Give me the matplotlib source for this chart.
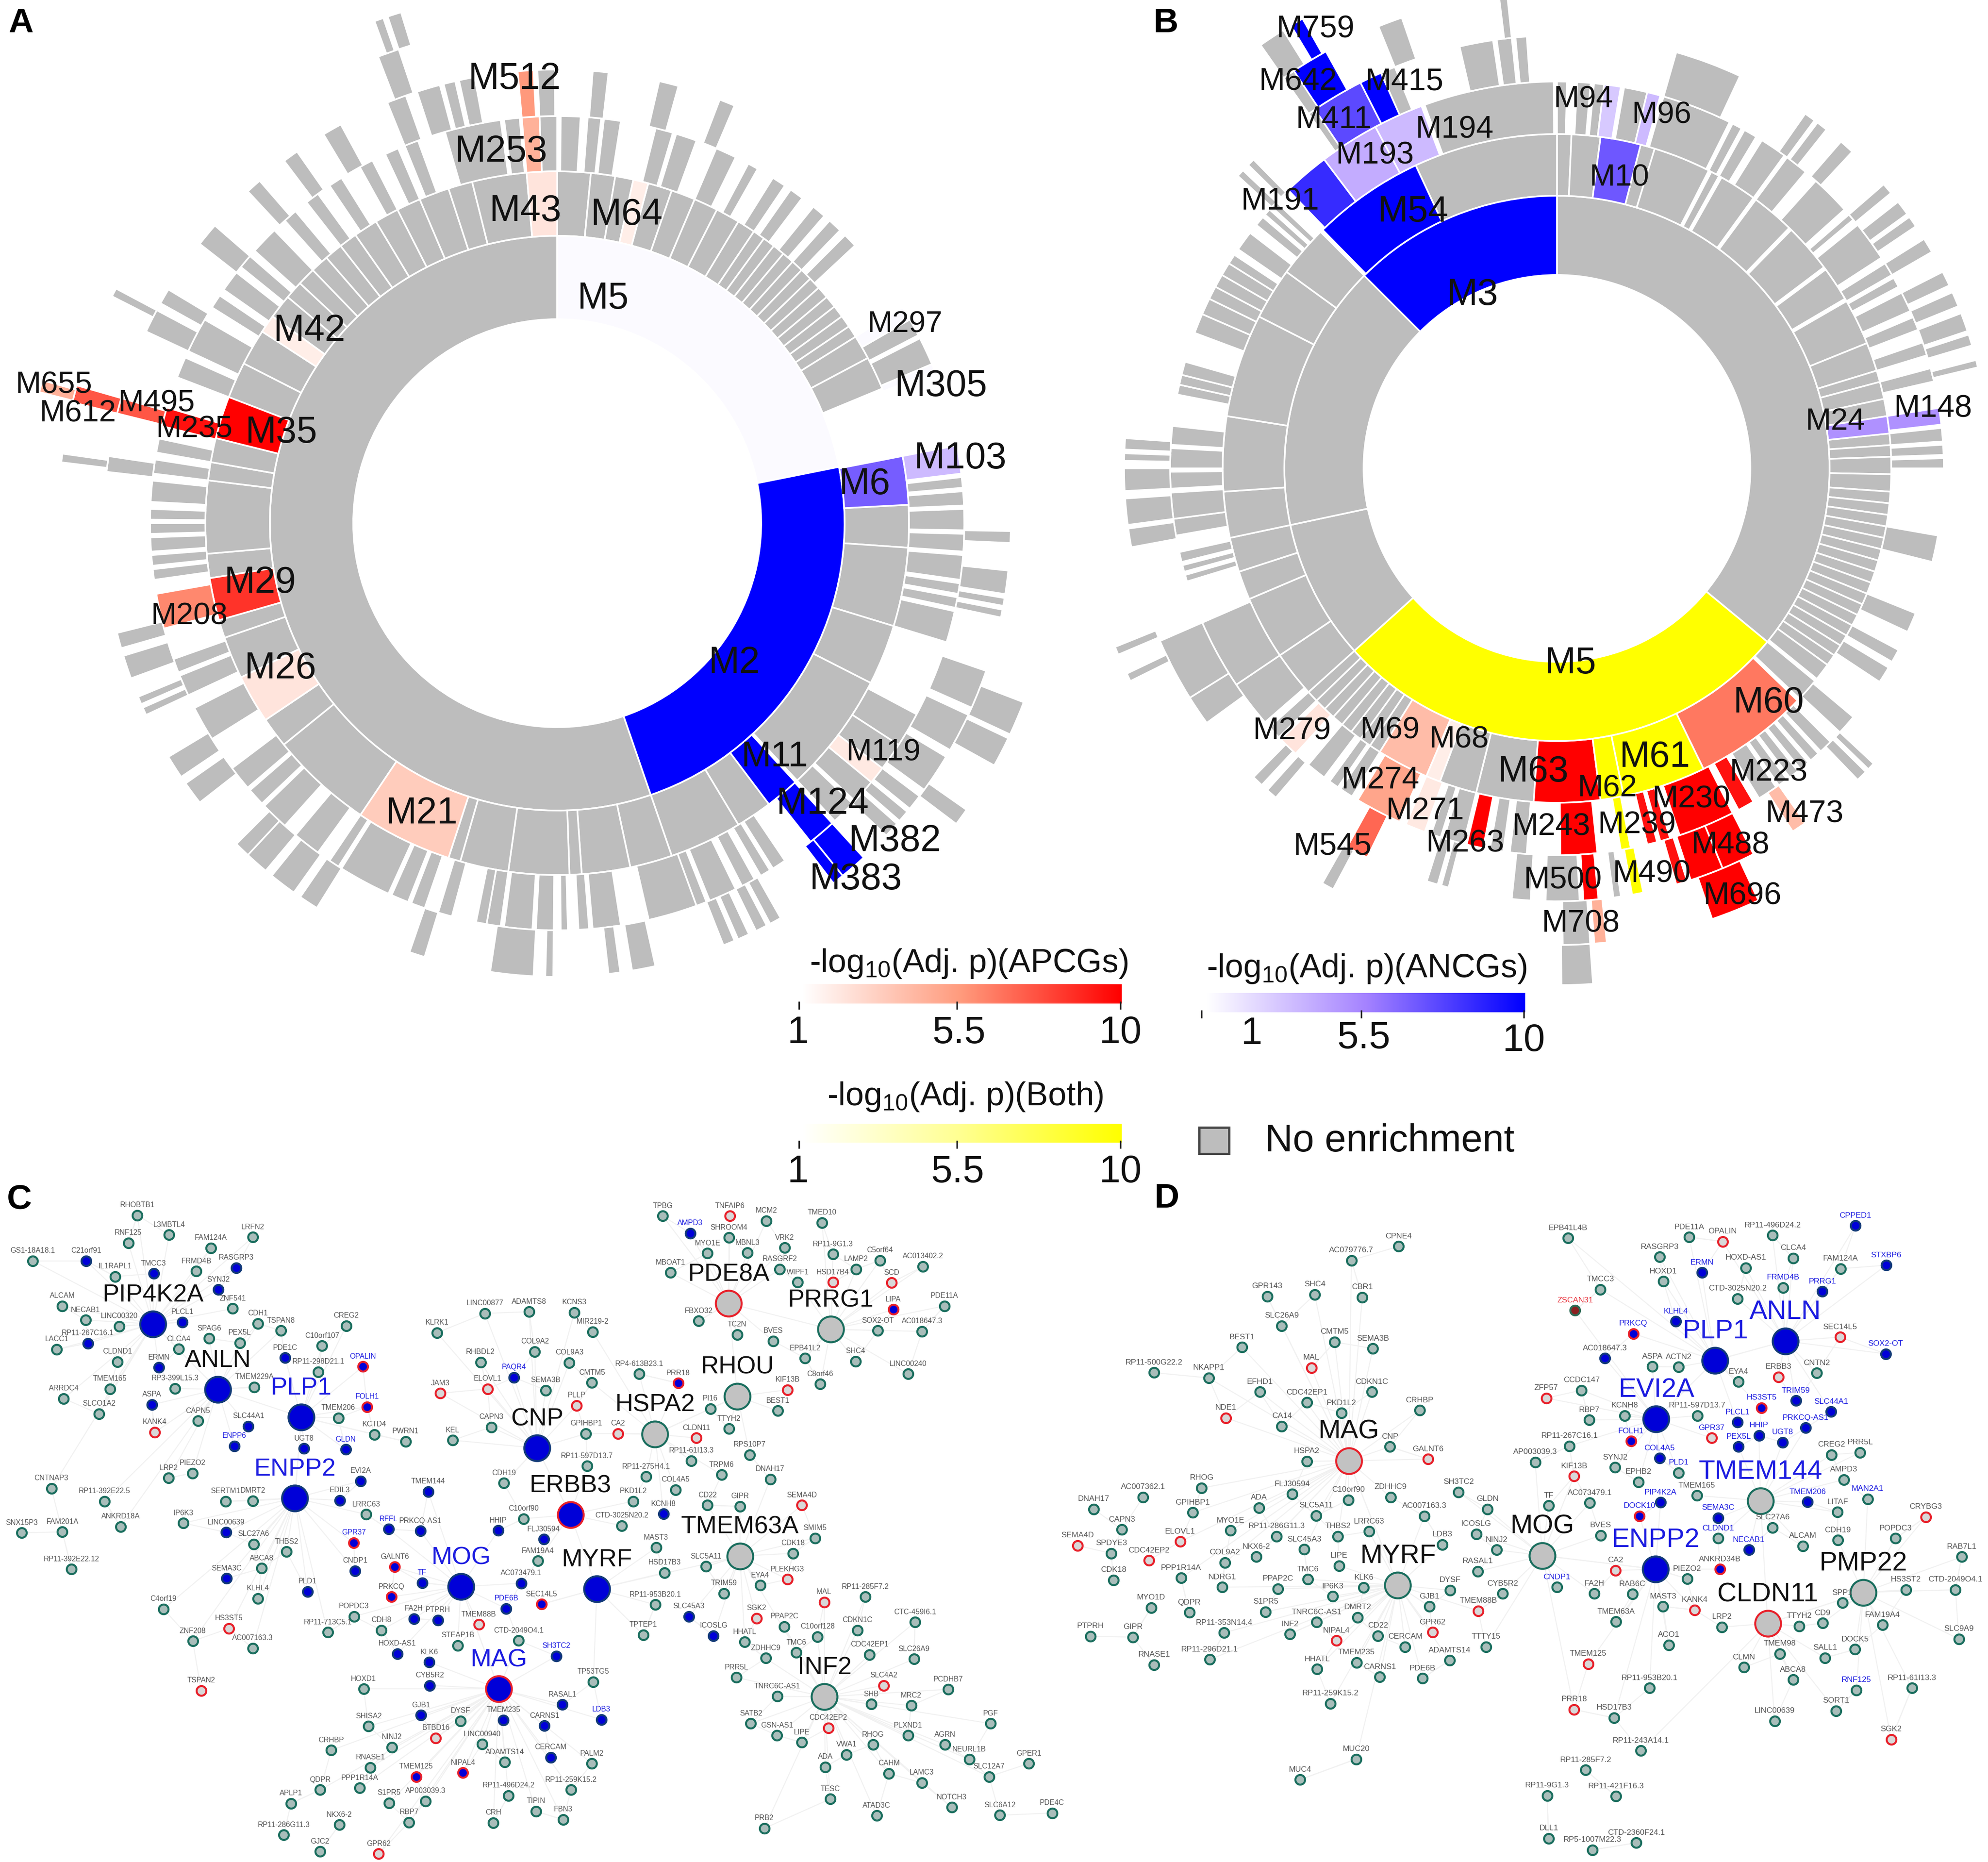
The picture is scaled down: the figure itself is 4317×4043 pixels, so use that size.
import matplotlib
matplotlib.use("Agg")
from matplotlib import pyplot as plt
from matplotlib.patches import Wedge, Rectangle
from matplotlib.collections import LineCollection
from matplotlib.colors import LinearSegmentedColormap, Normalize
import numpy as np

plt.rcParams['font.family'] = ['Liberation Sans', 'DejaVu Sans']
plt.rcParams['mathtext.default'] = 'regular'

W, H = 4317, 4043

# sunburst A, angles in clock degrees, each inner list is a run of touching cells
A_CENTER = (1210, 1136)
A_RADII = [443, 624, 764, 884, 985, 1085, 1160]
A_RING1 = [[161, 360]]
A_RING2 = [[0, 5.5, 9.5, 12.5], [15, 19, 23, 27, 31, 34, 36, 38, 40, 42, 44, 46, 48, 50, 52, 54, 56, 58, 62, 67.5],
           [87, 94, 107, 117, 137], [143, 149, 161, 168, 176, 178, 188, 196, 198], [214, 231, 236], [244, 251, 254],
           [261, 265, 277, 280, 284], [291, 297, 303],
           [306, 310, 313, 316, 319, 322, 325, 329, 333, 337, 342, 346, 355]]
A_RING3 = [[0.5, 3.3], [4.3, 6.2], [6.6, 9], [14, 16.5], [17, 20], [23, 26], [28, 29.5], [32, 34], [35, 37], [39, 41],
           [42, 44], [45, 47], [60, 62.5], [63, 67], [83.5, 85], [85.5, 87.5], [88, 91], [91.5, 94], [94.5, 98],
           [98.5, 100], [100.5, 102], [102.5, 107], [118, 123], [123, 127], [129.5, 133], [133.5, 137], [146, 148],
           [148.5, 150], [151, 153], [154, 158], [158.5, 160], [160, 167], [171, 175], [175.5, 177], [178.5, 179.5],
           [180.5, 183], [183.5, 187.5], [188, 190], [190, 191.5], [195, 197], [199, 201], [201.5, 204], [204.5, 212],
           [212.5, 214], [216, 220], [222, 226], [226.5, 229], [229.5, 233], [238, 243], [245, 248], [248.5, 250.5],
           [262, 263.5], [264, 265.5], [266, 268], [268.5, 270], [270.5, 272], [273, 276], [277, 279], [280, 282],
           [291, 294], [295, 300], [302, 304], [305, 308], [309, 311], [312, 316], [318, 320], [322, 324], [326, 328],
           [331, 333], [335, 337], [338, 340], [344, 352], [352.5, 354.7], [357.5, 360]]
A_RING4 = [[4.5, 6.5], [13, 15.5], [21, 23], [91, 92.5], [96, 99], [99.5, 100.5], [101, 102], [109, 114], [115, 120],
           [121, 126], [127, 129], [129.5, 131], [131.5, 133.5], [150.5, 152], [152.5, 154], [155, 156.5], [157, 158.5],
           [167.5, 170.5], [172, 173.5], [180.5, 181.5], [183, 188.5], [197, 199], [212, 214.5], [215.5, 219], [220, 223],
           [223, 225], [232, 235], [236, 239], [245, 246], [246.5, 247.5], [250, 253], [254, 256], [276.5, 278.5], [295, 298],
           [299, 301], [308, 311], [317, 319], [323, 325], [329, 331.5], [338, 340.5], [342, 345], [345.5, 347],
           [347.5, 349.5], [357.5, 359.7]]
A_RING5 = [[111, 115], [115.5, 119], [125, 127], [277, 278], [297, 298], [339, 341.5]]
A_RING6 = [[340, 341], [341.5, 343]]
A_RED = [(2, 355, 360, 2.2), (2, 12.5, 15, 1.8), (2, 303, 306, 1.8), (2, 284, 291, 10), (2, 254, 261, 8.5),
         (2, 236, 244, 2.2), (2, 198, 214, 3.3), (3, 355, 357.5, 4.5), (4, 355, 357, 5.5), (3, 255, 260, 6),
         (3, 283.8, 286.5, 9.5), (4, 284, 286, 7.5), (5, 284, 286, 7.5), (6, 284.2, 285.5, 4.5), (3, 127, 129.5, 2)]
A_BLUE = [(1, 0, 78.7, 1.2), (1, 78.7, 161, 10), (2, 79, 87, 6.8), (3, 79, 83, 3.5), (2, 137.4, 143, 10),
          (3, 137.5, 141.5, 10), (4, 137.5, 141, 10), (4, 141, 142.5, 10), (3, 58, 60, 1.2), (3, 67, 68, 1.2)]
A_LABELS = [('M512', 1117, 172, 58), ('M253', 1088, 330, 58), ('M43', 1141, 459, 58), ('M64', 1361, 467, 58),
            ('M5', 1309, 649, 58), ('M42', 672, 719, 58), ('M297', 1965, 705, 47), ('M305', 2043, 839, 58),
            ('M103', 2085, 996, 58), ('M6', 1877, 1052, 58), ('M655', 117, 837, 48), ('M612', 169, 898, 48),
            ('M495', 340, 877, 48), ('M235', 422, 933, 48), ('M35', 611, 940, 58), ('M29', 565, 1266, 58),
            ('M208', 411, 1339, 48), ('M26', 609, 1452, 58), ('M2', 1594, 1440, 58), ('M11', 1682, 1644, 56),
            ('M119', 1918, 1634, 48), ('M124', 1786, 1746, 58), ('M382', 1943, 1827, 58), ('M383', 1858, 1910, 58),
            ('M21', 916, 1767, 58)]

# sunburst B
B_CENTER = (3381, 1017)
B_RADII = [420, 592, 726, 840, 940, 1035, 1122]
B_RING1 = [[0, 129.5], [228, 258, 315]]
B_RING2 = [[0, 2.5, 7.5], [14.5, 17, 27], [27.5, 29], [29.5, 36], [36.5, 44], [44.5, 53], [53.5, 59.5], [60, 68, 73, 75, 78, 81],
           [84, 86, 88, 91, 94, 96, 98, 100, 102, 104, 106, 108, 110, 112, 114, 116, 118, 120, 122, 124, 126, 129],
           [129.5, 133.5], [184, 194, 200.5], [212, 214, 216, 218, 220, 222, 224, 226, 228],
           [228, 236, 247, 252, 258, 266, 279, 297, 306, 315], [335, 360]]
B_RING3 = [[340, 359.5], [0, 1.5], [3, 5], [5.5, 7], [10, 13.5], [16, 26.5], [27, 28.5], [29, 31], [32, 36], [36.5, 40], [42, 48],
           [49, 50], [51, 57], [58, 60], [60.5, 62], [63, 66], [67, 69], [71, 73], [75, 77], [84, 86], [86.5, 88], [88.5, 90],
           [100, 104], [112, 115], [118, 120], [121, 123.5], [130, 133], [135, 137], [137.5, 139], [139.5, 141], [141.5, 143],
           [143.5, 145], [145.5, 148.5], [184.5, 187], [188, 190], [194, 197], [197.5, 199], [212, 214], [214.5, 216], [217, 220],
           [226, 228], [229, 236], [236, 246.5], [253, 254], [254.5, 255.5], [256, 257.5], [260, 262.5],
           [262.5, 266.4], [267, 269.5], [270, 273], [273.5, 276.3], [281, 282.5], [282.5, 284], [284, 286],
           [290.5, 293.5], [293.5, 296], [296, 298], [298, 300], [300, 302], [302, 303.5], [304.5, 307.5],
           [309, 310.5], [311, 312], [312.5, 313.5]]
B_RING4 = [[312.5, 313.5], [314.5, 315.5], [325, 326], [336, 338], [347, 351.5], [352, 354], [354.5, 356], [16, 25], [35, 36.5],
           [37, 38.5], [41, 43], [49, 50.5], [52, 54], [54.5, 56], [58, 60], [63, 65], [66, 68], [69, 71.5], [72, 73.5], [75.5, 76.5],
           [238, 246.5], [234, 238], [259.5, 262], [262.5, 266], [267, 270], [271, 272], [272.5, 274], [220.5, 222], [223, 224.5],
           [133, 134], [134.5, 136], [177, 181.5], [183.5, 186], [171.5, 172.5], [194.5, 195.5], [196, 197.5]]
B_RING5 = [[338, 341], [325, 328], [353, 354], [243.5, 244.5], [247, 248], [176, 179.3], [208, 209.5]]
B_RING6 = [[325, 328], [176, 179.5]]
B_RED = [(2, 134, 154, 6.5), (2, 172.5, 184, 10), (2, 203, 212, 4), (2, 200.5, 203, 1.8), (3, 204, 211, 5), (3, 222.5, 225.5, 2.2),
         (3, 174, 179.5, 10), (3, 153, 161.5, 10), (3, 149.5, 152, 9.5), (3, 165, 166.5, 9.5), (3, 163, 164.5, 9.5),
         (3, 191, 193.5, 10), (3, 200, 203, 2), (4, 206, 209, 7), (4, 174.5, 176.5, 10), (5, 174, 175.5, 4.5), (4, 153, 157.5, 10),
         (4, 157.5, 162, 10), (5, 155, 161, 10), (4, 162.5, 164, 9.5), (4, 145, 147, 4)]
B_BLUE = [(1, 315, 360, 10), (2, 315.5, 335, 10), (2, 7.5, 14.5, 7), (2, 81, 84, 5), (3, 81, 83.5, 5), (3, 316, 323, 8.5),
          (3, 323, 332, 4), (3, 332, 339.5, 3.5), (3, 7, 9.5, 3), (3, 13.5, 15.5, 3.5), (4, 326, 333, 7.5), (4, 333, 336, 10),
          (5, 326.5, 331, 10), (6, 329, 330.5, 10)]
B_YELLOW = [(1, 129.5, 228, 10), (2, 154, 168.5, 10), (2, 168.5, 172.5, 10), (3, 169, 170.5, 10), (4, 168.5, 170, 10)]
B_LABELS = [('M759', 2856, 63, 49), ('M642', 2818, 178, 49), ('M415', 3049, 178, 49), ('M411', 2896, 260, 49),
            ('M194', 3158, 281, 49), ('M193', 2986, 337, 49), ('M94', 3438, 217, 48), ('M96', 3608, 250, 48),
            ('M10', 3516, 386, 48), ('M191', 2779, 438, 49), ('M54', 3069, 460, 57), ('M3', 3197, 641, 58),
            ('M24', 3985, 916, 48), ('M148', 4197, 888, 49), ('M5', 3410, 1441, 58), ('M60', 3840, 1527, 57),
            ('M279', 2805, 1588, 49), ('M69', 3018, 1586, 48), ('M68', 3168, 1607, 48), ('M63', 3329, 1677, 57),
            ('M61', 3593, 1644, 57), ('M223', 3840, 1677, 49), ('M62', 3490, 1712, 48), ('M274', 2997, 1694, 49),
            ('M230', 3672, 1736, 49), ('M271', 3094, 1761, 49), ('M473', 3918, 1768, 49), ('M243', 3368, 1796, 49),
            ('M239', 3554, 1792, 49), ('M488', 3757, 1835, 49), ('M263', 3181, 1831, 49), ('M545', 2894, 1838, 49),
            ('M500', 3393, 1911, 49), ('M490', 3586, 1898, 49), ('M696', 3783, 1946, 49), ('M708', 3432, 2006, 49)]

COLORBAR_TICKS = [1, 5.5, 10]

# network C, positions as read in two crops of the figure
C1_NODES = [('RHOBTB1', 390, 93, 'g'), ('L3MBTL4', 480, 138, 'g'), ('LRFN2', 718, 143, 'g'), ('RNF125', 364, 156, 'g'),
            ('FAM124A', 598, 168, 'g'), ('GS1-18A18.1', 93, 197, 'g'), ('C21orf91', 244, 197, 'b'), ('RASGRP3', 670, 213, 'b'),
            ('FRMD4B', 557, 221, 'g'), ('TMCC3', 436, 226, 'b'), ('IL1RAPL1', 327, 233, 'g'), ('SYNJ2', 620, 263, 'b'),
            ('ALCAM', 177, 300, 'g'), ('ZNF541', 660, 306, 'g'), ('NECAB1', 243, 332, 'g'), ('PLCL1', 518, 337, 'b'),
            ('LINC00320', 338, 346, 'g'), ('CDH1', 732, 340, 'g'), ('TSPAN8', 797, 356, 'g'), ('CREG2', 983, 345, 'g'),
            ('SPAG6', 594, 374, 'g'), ('PEX5L', 681, 384, 'g'), ('RP11-267C16.1', 249, 385, 'b'), ('C10orf107', 914, 391, 'g'),
            ('CLCA4', 507, 398, 'g'), ('LACC1', 161, 399, 'g'), ('CLDND1', 333, 427, 'g'), ('PDE1C', 809, 418, 'b'),
            ('ERMN', 451, 440, 'b'), ('OPALIN', 1030, 438, 'm'), ('RP11-298D21.1', 903, 450, 'g'), ('TMEM165', 312, 489, 'g'),
            ('RP3-399L15.3', 497, 488, 'g'), ('TMEM229A', 722, 485, 'g'), ('ARRDC4', 181, 511, 'g'), ('ASPA', 431, 525, 'b'),
            ('FOLH1', 1042, 530, 'm'), ('SLCO1A2', 281, 546, 'g'), ('TMEM206', 960, 555, 'g'), ('CAPN5', 562, 562, 'g'),
            ('SLC44A1', 705, 574, 'b'), ('KANK4', 439, 588, 'r'), ('KCTD4', 1063, 593, 'g'), ('PWRN1', 1151, 609, 'g'),
            ('ENPP6', 665, 619, 'b'), ('UGT8', 863, 625, 'b'), ('GLDN', 981, 627, 'b'), ('PIEZO2', 546, 681, 'g'),
            ('LRP2', 479, 692, 'g'), ('EVI2A', 1024, 699, 'b'), ('TMEM144', 1215, 723, 'b'), ('EDIL3', 965, 743, 'b'),
            ('SERTM1', 640, 745, 'g'), ('DMRT2', 718, 744, 'g'), ('CNTNAP3', 146, 716, 'g'), ('RP11-392E22.5', 297, 745, 'g'),
            ('LRRC63', 1039, 775, 'g'), ('ANKRD18A', 342, 803, 'g'), ('IP6K3', 520, 795, 'g'), ('FAM201A', 177, 815, 'g'),
            ('SNX15P3', 62, 817, 'g'), ('LINC00639', 642, 816, 'b'), ('RFFL', 1103, 809, 'b'), ('PRKCQ-AS1', 1193, 813, 'b'),
            ('HHIP', 1414, 812, 'b'), ('C10orf90', 1486, 785, 'g'), ('CDH19', 1430, 704, 'g'), ('GPR37', 1004, 840, 'm'),
            ('SLC27A6', 720, 843, 'g'), ('THBS2', 813, 860, 'g'), ('RP11-392E22.12', 203, 900, 'g'), ('ABCA8', 742, 898, 'g'),
            ('GALNT6', 1120, 895, 'm'), ('CNDP1', 1008, 904, 'b'), ('SEMA3C', 643, 921, 'b'), ('TF', 1198, 931, 'b'),
            ('AC073479.1', 1479, 932, 'b'), ('PLD1', 873, 951, 'b'), ('KLHL4', 732, 967, 'g'), ('PRKCQ', 1111, 963, 'm'),
            ('C4orf19', 464, 991, 'g'), ('POPDC3', 1005, 1008, 'g'), ('PDE6B', 1437, 990, 'b'), ('HS3ST5', 650, 1035, 'r'),
            ('FA2H', 1175, 1013, 'b'), ('PTPRH', 1243, 1016, 'b'), ('TMEM88B', 1359, 1026, 'r'), ('CDH8', 1082, 1039, 'g'),
            ('RP11-713C5.1', 930, 1044, 'g'), ('ZNF208', 547, 1064, 'g'), ('CTD-2049O4.1', 1472, 1063, 'g'),
            ('AC007163.3', 717, 1080, 'g'), ('STEAP1B', 1299, 1074, 'g'), ('HOXD-AS1', 1128, 1093, 'b'), ('KLK6', 1218, 1112, 'b'),
            ('HOXD1', 1032, 1173, 'g'), ('CYB5R2', 1220, 1165, 'b'), ('TSPAN2', 571, 1177, 'r'), ('GJB1', 1195, 1233, 'b'),
            ('SHISA2', 1046, 1258, 'g'), ('DYSF', 1307, 1246, 'g'), ('TMEM235', 1429, 1244, 'b'), ('BTBD16', 1237, 1285, 'r'),
            ('NINJ2', 1112, 1306, 'g'), ('LINC00940', 1368, 1299, 'g'), ('CRHBP', 940, 1313, 'g'), ('ADAMTS14', 1433, 1340, 'g'),
            ('RNASE1', 1051, 1352, 'g'), ('TMEM125', 1181, 1373, 'm'), ('NIPAL4', 1314, 1364, 'm'), ('PPP1R14A', 1021, 1399, 'g'),
            ('QDPR', 909, 1403, 'g'), ('RP11-496D24.2', 1443, 1416, 'g'), ('AP003039.3', 1208, 1429, 'g'), ('S1PR5', 1104, 1433, 'g'),
            ('APLP1', 826, 1434, 'g'), ('TIPIN', 1521, 1452, 'g'), ('RBP7', 1161, 1477, 'g'), ('CRH', 1400, 1478, 'g'),
            ('NKX6-2', 963, 1483, 'g'), ('RP11-286G11.3', 805, 1506, 'g'), ('GJC2', 908, 1544, 'g'), ('GPR62', 1075, 1549, 'r'),
            ('KLRK1', 1240, 361, 'g'), ('LINC00877', 1376, 317, 'g'), ('ADAMTS8', 1502, 313, 'g'), ('RHBDL2', 1364, 428, 'g'),
            ('COL9A2', 1518, 404, 'g'), ('JAM3', 1250, 499, 'r'), ('ELOVL1', 1384, 489, 'r'), ('PAQR4', 1459, 463, 'b'),
            ('CAPN3', 1394, 576, 'g'), ('KEL', 1285, 606, 'g'), ('SEMA3B', 1549, 492, 'g'), ('FLJ30594', 1543, 832, 'b'),
            ('FAM19A4', 1527, 881, 'g'), ('SEC14L5', 1537, 980, 'm')]
C1_HUBS = [('PIP4K2A', 434, 341, 'b'), ('ANLN', 618, 490, 'b'), ('PLP1', 855, 553, 'b'), ('ENPP2', 837, 738, 'b'),
           ('MOG', 1308, 940, 'b'), ('MAG', 1416, 1173, 'm'), ('CNP', 1524, 624, 'b')]
C2_NODES = [('TPBG', 378, 95, 'g'), ('TNFAIP6', 569, 95, 'r'), ('MCM2', 672, 106, 'g'), ('TMED10', 830, 110, 'g'),
            ('AMPD3', 456, 134, 'b'), ('SHROOM4', 566, 144, 'g'), ('VRK2', 724, 167, 'g'), ('MYO1E', 505, 180, 'g'),
            ('MBNL3', 618, 179, 'g'), ('RP11-9G1.3', 861, 182, 'g'), ('C5orf64', 994, 196, 'g'), ('AC013402.2', 1116, 210, 'g'),
            ('RASGRF2', 710, 216, 'g'), ('LAMP2', 927, 216, 'g'), ('MBOAT1', 400, 224, 'g'), ('WIPF1', 761, 246, 'g'),
            ('HSD17B4', 861, 246, 'r'), ('SCD', 1027, 247, 'r'), ('PDE11A', 1177, 300, 'g'), ('LIPA', 1032, 308, 'm'),
            ('FBXO32', 480, 334, 'g'), ('SOX2-OT', 988, 356, 'g'), ('AC018647.3', 1114, 358, 'g'), ('TC2N', 589, 365, 'g'),
            ('BVES', 692, 380, 'g'), ('EPB41L2', 782, 419, 'g'), ('SHC4', 925, 426, 'g'), ('LINC00240', 1074, 455, 'g'),
            ('C8orf46', 825, 478, 'g'), ('KIF13B', 732, 491, 'r'), ('MIR219-2', 179, 359, 'g'), ('KCNS3', 127, 315, 'g'),
            ('COL9A3', 113, 429, 'g'), ('CMTM5', 177, 475, 'g'), ('RP4-613B23.1', 311, 455, 'g'), ('PRR18', 422, 476, 'm'),
            ('PLLP', 133, 527, 'r'), ('PI16', 513, 534, 'g'), ('BEST1', 704, 539, 'g'), ('TTYH2', 566, 580, 'g'),
            ('GPIHBP1', 160, 591, 'g'), ('CA2', 251, 591, 'r'), ('CLDN11', 473, 601, 'r'), ('RPS10P7', 625, 639, 'g'),
            ('RP11-61I13.3', 459, 653, 'g'), ('RP11-597D13.7', 163, 665, 'g'), ('RP11-275H4.1', 331, 689, 'g'), ('TRPM6', 545, 685, 'g'),
            ('DNAH17', 683, 695, 'g'), ('COL4A5', 414, 719, 'g'), ('PKD1L2', 294, 745, 'g'), ('CD22', 505, 754, 'g'),
            ('GIPR', 597, 757, 'g'), ('SEMA4D', 773, 754, 'r'), ('KCNH8', 380, 774, 'b'), ('CTD-3025N20.2', 262, 801, 'g'),
            ('SMIM5', 810, 829, 'g'), ('MAST3', 359, 851, 'g'), ('CDK18', 747, 864, 'g'), ('HSD17B3', 383, 908, 'g'),
            ('SLC5A11', 500, 894, 'g'), ('PLEKHG3', 732, 923, 'r'), ('EYA4', 655, 937, 'g'), ('TRIM59', 552, 955, 'g'),
            ('RP11-953B20.1', 357, 981, 'g'), ('MAL', 836, 975, 'r'), ('RP11-285F7.2', 953, 963, 'g'), ('SLC45A3', 452, 1008, 'b'),
            ('SGK2', 644, 1012, 'r'), ('PPAP2C', 723, 1031, 'g'), ('CTC-459I6.1', 1094, 1021, 'g'), ('CDKN1C', 931, 1039, 'g'),
            ('TPTEP1', 323, 1050, 'g'), ('ICOSLG', 522, 1052, 'b'), ('C10orf128', 817, 1054, 'g'), ('HHATL', 611, 1066, 'g'),
            ('TMC6', 757, 1090, 'g'), ('CDC42EP1', 965, 1095, 'g'), ('ZDHHC9', 670, 1103, 'g'), ('SLC26A9', 1091, 1105, 'g'),
            ('PRR5L', 587, 1147, 'g'), ('SLC4A2', 1005, 1165, 'r'), ('PCDHB7', 1188, 1174, 'g'), ('TNRC6C-AS1', 703, 1190, 'g'),
            ('SHB', 970, 1208, 'g'), ('MRC2', 1083, 1211, 'g'), ('SATB2', 628, 1252, 'g'), ('PGF', 1308, 1252, 'g'),
            ('CDC42EP2', 848, 1262, 'r'), ('GSN-AS1', 702, 1279, 'g'), ('PLXND1', 1074, 1279, 'g'), ('AGRN', 1179, 1300, 'g'),
            ('LIPE', 773, 1295, 'g'), ('RHOG', 975, 1300, 'g'), ('NEURL1B', 1248, 1334, 'g'), ('GPER1', 1417, 1343, 'g'),
            ('VWA1', 899, 1323, 'g'), ('ADA', 839, 1351, 'g'), ('CAHM', 1020, 1366, 'g'), ('SLC12A7', 1304, 1373, 'g'),
            ('LAMC3', 1113, 1387, 'g'), ('TESC', 853, 1424, 'g'), ('NOTCH3', 1198, 1443, 'g'), ('ATAD3C', 985, 1462, 'g'),
            ('SLC6A12', 1335, 1461, 'g'), ('PDE4C', 1483, 1456, 'g'), ('PRB2', 666, 1491, 'g'), ('TP53TG5', 181, 1157, 'g'),
            ('PALM2', 177, 1343, 'g'), ('RP11-259K15.2', 118, 1403, 'g'), ('FBN3', 95, 1471, 'g'), ('SH3TC2', 76, 1098, 'b'),
            ('RASAL1', 93, 1209, 'b'), ('LDB3', 204, 1243, 'b'), ('CARNS1', 42, 1257, 'b'), ('CERCAM', 60, 1329, 'b')]
C2_HUBS = [('ERBB3', 116, 776, 'm'), ('MYRF', 191, 945, 'b'), ('PDE8A', 565, 294, 'r'), ('PRRG1', 855, 353, 'g'),
           ('RHOU', 590, 506, 'g'), ('HSPA2', 356, 592, 'g'), ('TMEM63A', 597, 870, 'g'), ('INF2', 837, 1191, 'g')]
C_BLUE_LABELS = ['OPALIN', 'FOLH1', 'ENPP6', 'GLDN', 'PAQR4', 'GPR37', 'RFFL', 'TF', 'PDE6B', 'AMPD3', 'SH3TC2', 'LDB3',
                 'PLP1', 'ENPP2', 'MOG', 'MAG']

# network D
D1_NODES = [('CPNE4', 1156, 164, 'g'), ('AC079776.7', 995, 196, 'g'), ('GPR143', 708, 278, 'g'), ('SHC4', 870, 274, 'g'),
            ('CBR1', 1032, 280, 'g'), ('SLC26A9', 758, 345, 'g'), ('CMTM5', 938, 382, 'g'), ('SEMA3B', 1068, 397, 'g'),
            ('BEST1', 622, 394, 'g'), ('MAL', 859, 441, 'r'), ('RP11-500G22.2', 323, 452, 'g'), ('NKAPP1', 509, 464, 'g'),
            ('EFHD1', 683, 496, 'g'), ('CDKN1C', 1065, 496, 'g'), ('CDC42EP1', 843, 520, 'g'), ('PKD1L2', 961, 544, 'g'),
            ('CRHBP', 1227, 538, 'g'), ('NDE1', 568, 555, 'r'), ('CA14', 758, 574, 'g'), ('CNP', 1126, 621, 'g'),
            ('GALNT6', 1256, 649, 'r'), ('HSPA2', 843, 654, 'g'), ('RHOG', 485, 715, 'g'), ('AC007362.1', 285, 736, 'g'),
            ('FLJ30594', 793, 729, 'g'), ('SH3TC2', 1360, 724, 'g'), ('C10orf90', 985, 742, 'g'), ('ZDHHC9', 1129, 736, 'g'),
            ('DNAH17', 118, 763, 'g'), ('GPIHBP1', 455, 771, 'g'), ('ADA', 681, 760, 'g'), ('GLDN', 1459, 763, 'g'),
            ('SLC5A11', 875, 778, 'g'), ('AC007163.3', 1243, 779, 'g'), ('CAPN3', 214, 810, 'g'), ('MYO1E', 584, 812, 'g'),
            ('RP11-286G11.3', 740, 825, 'g'), ('THBS2', 949, 825, 'g'), ('LRRC63', 1055, 814, 'g'), ('ICOSLG', 1420, 820, 'g'),
            ('ELOVL1', 412, 837, 'r'), ('SEMA4D', 62, 846, 'r'), ('LDB3', 1305, 844, 'g'), ('SPDYE3', 177, 864, 'g'),
            ('SLC45A3', 834, 855, 'g'), ('NINJ2', 1489, 856, 'g'), ('CDC42EP2', 305, 880, 'r'), ('COL9A2', 564, 885, 'g'),
            ('NKX6-2', 671, 872, 'g'), ('LIPE', 953, 892, 'g'), ('RASAL1', 1425, 905, 'g'), ('CDK18', 185, 925, 'g'),
            ('PPP1R14A', 415, 920, 'g'), ('TMC6', 847, 923, 'g'), ('NDRG1', 555, 941, 'g'), ('PPAP2C', 745, 945, 'g'),
            ('KLK6', 1037, 942, 'g'), ('DYSF', 1331, 948, 'g'), ('CYB5R2', 1510, 956, 'g'), ('IP6K3', 932, 962, 'g'),
            ('GJB1', 1261, 985, 'g'), ('MYO1D', 313, 988, 'g'), ('QDPR', 443, 999, 'g'), ('S1PR5', 703, 997, 'g'),
            ('TMEM88B', 1427, 995, 'r'), ('DMRT2', 1016, 1010, 'g'), ('TNRC6C-AS1', 877, 1021, 'g'), ('RP11-353N14.4', 562, 1045, 'g'),
            ('PTPRH', 106, 1053, 'g'), ('GIPR', 251, 1055, 'g'), ('INF2', 785, 1048, 'g'), ('GPR62', 1271, 1044, 'r'),
            ('CD22', 1085, 1052, 'g'), ('NIPAL4', 944, 1063, 'r'), ('CERCAM', 1178, 1077, 'g'), ('TTTY15', 1453, 1077, 'g'),
            ('RP11-296D21.1', 512, 1106, 'g'), ('ADAMTS14', 1329, 1108, 'g'), ('RNASE1', 323, 1118, 'g'), ('TMEM235', 1013, 1113, 'g'),
            ('HHATL', 878, 1128, 'g'), ('CARNS1', 1092, 1146, 'g'), ('PDE6B', 1237, 1149, 'g'), ('RP11-259K15.2', 924, 1206, 'g'),
            ('MUC20', 1011, 1333, 'g'), ('MUC4', 820, 1380, 'g')]
D1_HUBS = [('MAG', 986, 653, 'r'), ('MYRF', 1153, 937, 'g')]
D2_NODES = [('EPB41L4B', 228, 145, 'g'), ('CPPED1', 1145, 117, 'b'), ('PDE11A', 614, 143, 'g'), ('OPALIN', 721, 153, 'r'),
            ('RP11-496D24.2', 880, 139, 'g'), ('RASGRP3', 520, 188, 'g'), ('CLCA4', 946, 191, 'g'), ('ERMN', 655, 224, 'b'),
            ('HOXD-AS1', 795, 213, 'g'), ('FAM124A', 1097, 215, 'g'), ('STXBP6', 1243, 207, 'b'), ('HOXD1', 532, 244, 'g'),
            ('FRMD4B', 914, 258, 'g'), ('PRRG1', 1039, 267, 'b'), ('TMCC3', 331, 262, 'g'), ('CTD-3025N20.2', 769, 283, 'g'),
            ('ZSCAN31', 250, 310, 'z'), ('KLHL4', 571, 335, 'b'), ('SEC14L5', 1096, 371, 'r'), ('PRKCQ', 436, 363, 'm'),
            ('SOX2-OT', 1241, 409, 'b'), ('AC018647.3', 345, 419, 'b'), ('ASPA', 497, 438, 'g'), ('ACTN2', 581, 439, 'g'),
            ('CNTN2', 1022, 453, 'g'), ('ERBB3', 899, 462, 'r'), ('EYA4', 772, 473, 'g'), ('CCDC147', 271, 492, 'g'),
            ('ZFP57', 158, 510, 'r'), ('TRIM59', 955, 516, 'b'), ('HS3ST5', 845, 532, 'm'), ('SLC44A1', 1067, 541, 'b'),
            ('KCNH8', 408, 550, 'g'), ('RP11-597D13.7', 640, 550, 'g'), ('RBP7', 295, 560, 'g'), ('PLCL1', 768, 565, 'b'),
            ('PRKCQ-AS1', 986, 578, 'b'), ('HHIP', 837, 595, 'b'), ('GPR37', 686, 601, 'r'), ('FOLH1', 429, 608, 'm'),
            ('UGT8', 913, 611, 'b'), ('RP11-267C16.1', 232, 619, 'g'), ('PEX5L', 772, 621, 'b'), ('COL4A5', 520, 647, 'b'),
            ('CREG2', 1068, 639, 'g'), ('PRR5L', 1160, 634, 'g'), ('AP003039.3', 123, 656, 'g'), ('PLD1', 581, 680, 'g'),
            ('SYNJ2', 378, 668, 'g'), ('KIF13B', 247, 688, 'r'), ('EPHB2', 453, 701, 'g'), ('AMPD3', 1108, 696, 'g'),
            ('TMEM165', 639, 732, 'g'), ('MAN2A1', 1184, 740, 'g'), ('TF', 166, 755, 'g'), ('AC073479.1', 297, 749, 'g'),
            ('PIP4K2A', 523, 748, 'b'), ('TMEM206', 992, 747, 'b'), ('LITAF', 1088, 770, 'g'), ('CRYBG3', 1369, 781, 'r'),
            ('DOCK10', 456, 779, 'm'), ('SEMA3C', 707, 783, 'b'), ('SLC27A6', 880, 805, 'g'), ('BVES', 332, 823, 'g'),
            ('CDH19', 1089, 834, 'g'), ('CLDND1', 707, 830, 'g'), ('POPDC3', 1273, 830, 'g'), ('ALCAM', 977, 847, 'g'),
            ('NECAB1', 805, 856, 'b'), ('RAB7L1', 1484, 872, 'g'), ('CA2', 379, 903, 'r'), ('ANKRD34B', 712, 900, 'm'),
            ('CNDP1', 192, 941, 'g'), ('PIEZO2', 608, 922, 'g'), ('HS3ST2', 1306, 947, 'g'), ('CTD-2049O4.1', 1464, 947, 'g'),
            ('FA2H', 312, 956, 'g'), ('RAB6C', 433, 957, 'g'), ('SPP1', 1103, 977, 'g'), ('MAST3', 531, 985, 'g'),
            ('KANK4', 632, 993, 'r'), ('FAM19A4', 1231, 1027, 'g'), ('TMEM63A', 381, 1020, 'g'), ('LRP2', 719, 1032, 'g'),
            ('TTYH2', 966, 1030, 'g'), ('CD9', 1040, 1023, 'g'), ('SLC9A9', 1475, 1059, 'g'), ('ACO1', 549, 1073, 'g'),
            ('DOCK5', 1144, 1083, 'g'), ('TMEM98', 904, 1093, 'g'), ('SALL1', 1048, 1102, 'g'), ('TMEM125', 292, 1116, 'r'),
            ('CLMN', 789, 1124, 'g'), ('ABCA8', 946, 1152, 'g'), ('RP11-953B20.1', 488, 1171, 'g'), ('RNF125', 1148, 1176, 'g'),
            ('RP11-61I13.3', 1325, 1171, 'g'), ('PRR18', 247, 1220, 'r'), ('SORT1', 1083, 1223, 'g'), ('HSD17B3', 375, 1239, 'g'),
            ('LINC00639', 887, 1246, 'g'), ('SGK2', 1259, 1288, 'r'), ('RP11-243A14.1', 460, 1314, 'g'),
            ('RP11-285F7.2', 284, 1358, 'g'), ('RP11-9G1.3', 161, 1416, 'g'), ('RP11-421F16.3', 381, 1418, 'g'),
            ('DLL1', 166, 1514, 'g'), ('CTD-2360F24.1', 445, 1524, 'g'), ('RP5-1007M22.3', 306, 1540, 'g')]
D2_HUBS = [('ANLN', 921, 380, 'b'), ('PLP1', 697, 424, 'b'), ('EVI2A', 509, 558, 'b'), ('TMEM144', 842, 744, 'g'),
           ('ENPP2', 507, 900, 'b'), ('MOG', 146, 869, 'g'), ('PMP22', 1170, 953, 'g'), ('CLDN11', 865, 1024, 'r')]
D_BLUE_LABELS = ['CPPED1', 'ERMN', 'STXBP6', 'FRMD4B', 'PRRG1', 'KLHL4', 'PRKCQ', 'SOX2-OT', 'TRIM59', 'HS3ST5', 'SLC44A1',
                 'PLCL1', 'PRKCQ-AS1', 'HHIP', 'GPR37', 'FOLH1', 'UGT8', 'PEX5L', 'COL4A5', 'PLD1', 'MAN2A1', 'PIP4K2A',
                 'TMEM206', 'DOCK10', 'SEMA3C', 'CLDND1', 'NECAB1', 'CNDP1', 'RNF125', 'ANLN', 'PLP1', 'EVI2A', 'TMEM144', 'ENPP2']
D_RED_LABELS = ['ZSCAN31']

GREY = '#BDBDBD'
TEAL = '#1A6E5E'
reds = LinearSegmentedColormap.from_list('apcg', ['#FFFFFF', '#FF9A7C', '#FF0000'])
blues = LinearSegmentedColormap.from_list('ancg', ['#FFFFFF', '#A583FF', '#0000FF'])
yellows = LinearSegmentedColormap.from_list('both', ['#FFFFFF', '#FFFF90', '#FFFF00'])
norm = Normalize(1, 10)

fig = plt.figure(figsize=(W / 100, H / 100), dpi=100)
ax = fig.add_axes([0, 0, 1, 1])


def cell(center, radii, ring, start, end, color, zorder=2):
    # y axis is flipped, so clock degrees only need a quarter turn
    ax.add_patch(Wedge(center, radii[ring], start - 90, end - 90, width=radii[ring] - radii[ring - 1],
                       facecolor=color, edgecolor='white', linewidth=2.6, zorder=zorder))


def draw_runs(center, radii, ring, runs):
    for run in runs:
        for a, b in zip(run[:-1], run[1:]):
            cell(center, radii, ring, a, b, GREY)


def draw_enriched(center, radii, cells, cmap):
    for ring, a, b, value in cells:
        cell(center, radii, ring, a, b, cmap(norm(value)), zorder=3)


for ring, runs in enumerate([A_RING1, A_RING2, A_RING3, A_RING4, A_RING5, A_RING6], start=1):
    draw_runs(A_CENTER, A_RADII, ring, runs)
draw_enriched(A_CENTER, A_RADII, A_RED, reds)
draw_enriched(A_CENTER, A_RADII, A_BLUE, blues)

for ring, runs in enumerate([B_RING1, B_RING2, B_RING3, B_RING4, B_RING5, B_RING6], start=1):
    draw_runs(B_CENTER, B_RADII, ring, runs)
draw_enriched(B_CENTER, B_RADII, B_RED, reds)
draw_enriched(B_CENTER, B_RADII, B_BLUE, blues)
draw_enriched(B_CENTER, B_RADII, B_YELLOW, yellows)

for name, x, y, size in A_LABELS + B_LABELS:
    ax.text(x, y, name, fontsize=size, ha='center', va='center', color='#111111', zorder=6)


def colorbar(title, title_x, title_y, cmap, x0, x1, y0, y1, ticks_x, tick_y, labels):
    grad = np.linspace(0, 1, 256)[None, :]
    ax.imshow(grad, extent=(x0, x1, y1, y0), aspect='auto', cmap=cmap, zorder=2)
    ax.text(title_x, title_y, title, fontsize=51.5, ha='left', va='baseline', color='#111111')
    for tx in ticks_x:
        ax.plot([tx, tx], [tick_y, tick_y + 14], color='#222222', lw=2.5, zorder=3)
    for value, lx, ly in zip(COLORBAR_TICKS, labels[0], labels[1]):
        ax.text(lx, ly, '{:g}'.format(value), fontsize=60, ha='center', va='center', color='#111111')


colorbar('-log$_{10}$(Adj. p)(APCGs)', 1758, 2111, reds, 1742, 2436, 2137, 2179, [1735, 2078, 2433], 2176,
         ([1733, 2083, 2433], [2243, 2243, 2243]))
colorbar('-log$_{10}$(Adj. p)(ANCGs)', 2620, 2122, blues, 2620, 3312, 2156, 2198, [2609, 2956, 3309], 2195,
         ([2718, 2962, 3309], [2245, 2254, 2260]))
colorbar('-log$_{10}$(Adj. p)(Both)', 1796, 2400, yellows, 1742, 2436, 2440, 2481, [1735, 2078, 2433], 2478,
         ([1733, 2080, 2433], [2545, 2545, 2545]))
ax.add_patch(Rectangle((2604, 2448), 65, 57, facecolor=GREY, edgecolor='#444444', linewidth=3.5))
ax.text(2747, 2478, 'No enrichment', fontsize=60, ha='left', va='center', color='#111111')

for letter, x, y in [('A', 45, 50), ('B', 2532, 50), ('C', 42, 2605), ('D', 2534, 2602)]:
    ax.text(x, y, letter, fontsize=54, fontweight='bold', ha='center', va='center', color='black')


def place(nodes, sx, sy, ox, oy):
    return [(name, x / sx + ox, y / sy + oy, kind) for name, x, y, kind in nodes]


def draw_network(small, hubs, blue_labels, small_font, hub_font, red_labels=()):
    everything = small + hubs
    xy = np.array([(n[1], n[2]) for n in everything])
    hub_xy = np.array([(n[1], n[2]) for n in hubs])
    # the faint links are too many to read one by one, tie each node to its nearest hub and neighbour
    segs = []
    for i, p in enumerate(xy):
        d = np.hypot(*(hub_xy - p).T)
        d[d < 1] = 1e9
        if d.min() < 450:
            segs.append([p, hub_xy[np.argmin(d)]])
        d2 = np.hypot(*(xy - p).T)
        d2[i] = 1e9
        segs.append([p, xy[np.argmin(d2)]])
    ax.add_collection(LineCollection(segs, colors='#F1F1F1', linewidths=1.6, zorder=1))
    for group, diam, fsize in [(small, 21, small_font), (hubs, 56, hub_font)]:
        s = (diam * 0.72) ** 2
        for name, x, y, kind in group:
            face = {'g': '#A9BDBA', 'b': '#0000D8', 'r': '#D8D8D8', 'm': '#0000D8', 'z': '#8A2020'}[kind]
            edge = {'g': TEAL, 'b': '#123A78', 'r': '#E8202A', 'm': '#E8202A', 'z': '#2E6B55'}[kind]
            if diam > 30 and kind in 'gr':
                face = '#C2C2C2'
            ax.scatter([x], [y], s=s, facecolor=face, edgecolor=edge, linewidth=3.1, zorder=4)
            color = '#1C1CE0' if name in blue_labels else '#555555'
            if name in red_labels:
                color = '#E8303A'
            if diam > 30 and name not in blue_labels:
                color = '#111111'
            gap = 63 if diam > 30 else 22
            ax.text(x, y - gap, name, fontsize=fsize, ha='center', va='center', color=color, zorder=5)


draw_network(place(C1_NODES, 1.307, 1.05, 0, 2550) + place(C2_NODES, 1.307, 1.05, 1150, 2550),
             place(C1_HUBS, 1.307, 1.05, 0, 2550) + place(C2_HUBS, 1.307, 1.05, 1150, 2550), C_BLUE_LABELS, 11.5, 39)
draw_network(place(D1_NODES, 1.568, 1.05, 2300, 2550) + place(D2_NODES, 1.4695, 1.05, 3250, 2550),
             place(D1_HUBS, 1.568, 1.05, 2300, 2550) + place(D2_HUBS, 1.4695, 1.05, 3250, 2550), D_BLUE_LABELS, 12.5, 42, D_RED_LABELS)

ax.set_xlim(0, W)
ax.set_ylim(H, 0)
ax.axis('off')
fig.savefig('out.png', dpi=100, facecolor='white')
